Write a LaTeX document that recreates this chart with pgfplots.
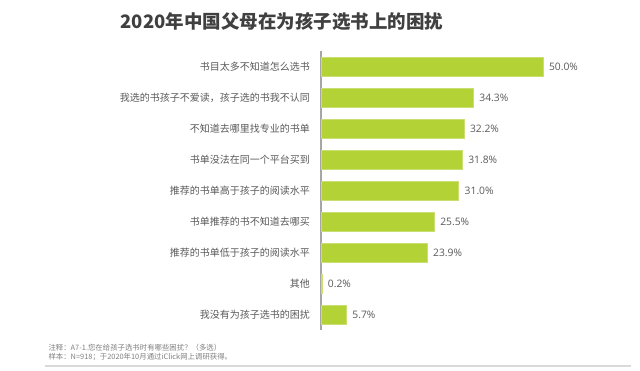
\documentclass[border=0pt]{standalone}
\usepackage{pgfplots}
\pgfplotsset{compat=1.18}
\usepackage{fontspec}
\setmainfont{Noto Sans CJK SC}
\newfontfamily\numfont{Open Sans}
\definecolor{bargreen}{RGB}{178,210,53}
\definecolor{titlegray}{RGB}{64,64,64}
\definecolor{labgray}{RGB}{89,89,89}
\definecolor{notegray}{RGB}{127,127,127}
\definecolor{axisgray}{RGB}{166,166,166}
\begin{document}
\begin{tikzpicture}[x=1pt,y=1pt]
\path[use as bounding box] (0,0) rectangle (640,371);
\node[font=\fontsize{18.5}{20}\selectfont\bfseries, text=titlegray] at (282,349) {2020年中国父母在为孩子选书上的困扰};
\begin{axis}[
  at={(321pt,319.5pt)}, anchor=north west,
  scale only axis, width=222pt, height=279pt,
  xmin=0, xmax=50, ymin=-0.5, ymax=8.5,
  y dir=reverse,
  clip=false,
  axis x line=none,
  axis y line*=left,
  y axis line style={draw=axisgray, line width=1.2pt, -},
  ytick={0,...,8},
  yticklabels={书目太多不知道怎么选书,我选的书孩子不爱读，孩子选的书我不认同,不知道去哪里找专业的书单,书单没法在同一个平台买到,推荐的书单高于孩子的阅读水平,书单推荐的书不知道去哪买,推荐的书单低于孩子的阅读水平,其他,我没有为孩子选书的困扰},
  major tick length=0pt,
  yticklabel style={font=\fontsize{10}{12}\selectfont, text=labgray, inner sep=0pt, xshift=-11pt},
  xbar, bar width=19pt,
  nodes near coords={\pgfmathprintnumber[fixed,fixed zerofill,precision=1]{\pgfplotspointmeta}\%},
  nodes near coords style={font=\numfont\fontsize{10.3}{12}\selectfont, text=labgray, anchor=west, xshift=2.5pt, /pgf/number format/assume math mode=true},
  point meta=explicit,
]
\addplot[fill=bargreen, draw=bargreen!70!white, line width=0.5pt] coordinates {
(50.0,0) [50.0]
(34.3,1) [34.3]
(32.2,2) [32.2]
(31.8,3) [31.8]
(31.0,4) [31.0]
(25.5,5) [25.5]
(23.9,6) [23.9]
(0.2,7) [0.2]
(5.7,8) [5.7]
};
\end{axis}
\node[anchor=west, font=\fontsize{7.4}{8}\selectfont, text=notegray] at (45,23) {注释：A7-1.您在给孩子选书时有哪些困扰？（多选）};
\node[anchor=west, font=\fontsize{7.4}{8}\selectfont, text=notegray] at (45,14) {样本：N=918；于2020年10月通过iClick网上调研获得。};
\draw[draw=black!15, line width=1.2pt] (45,5) -- (631,5);
\end{tikzpicture}
\end{document}
